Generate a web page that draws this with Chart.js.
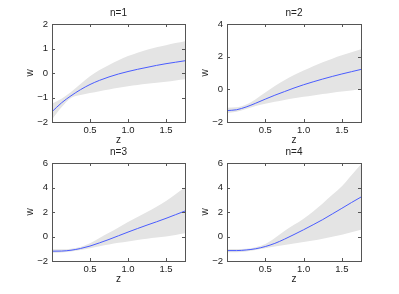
<!DOCTYPE html>
<html>
<head>
<meta charset="utf-8">
<script src="https://cdn.jsdelivr.net/npm/chart.js@4"></script>
<style>
  body { margin: 0; background: #fff; }
  #wrap { position: relative; width: 399px; height: 294px; overflow: hidden; }
  canvas { position: absolute; }
</style>
</head>
<body>
<div id="wrap">
  <canvas id="c1" width="200" height="147" style="left:0;top:0"></canvas>
  <canvas id="c2" width="201" height="147" style="left:175px;top:0"></canvas>
  <canvas id="c3" width="200" height="147" style="left:0;top:139px"></canvas>
  <canvas id="c4" width="201" height="147" style="left:175px;top:139px"></canvas>
</div>
<script>
  const zValues = [0, 0.125, 0.25, 0.375, 0.5, 0.625, 0.75, 0.875, 1, 1.125, 1.25, 1.375, 1.5, 1.625, 1.75];
  const xTicks = [0.5, 1, 1.5];

  const mean1 = [-1.58, -1.22, -0.93, -0.68, -0.47, -0.30, -0.16, -0.04, 0.06, 0.15, 0.23, 0.31, 0.38, 0.44, 0.50];
  const upper1 = [-1.25, -1.05, -0.78, -0.45, -0.13, 0.12, 0.33, 0.52, 0.69, 0.83, 0.95, 1.05, 1.13, 1.22, 1.30];
  const lower1 = [-1.9, -1.4, -1.02, -0.9, -0.82, -0.74, -0.67, -0.6, -0.54, -0.49, -0.44, -0.40, -0.36, -0.31, -0.26];

  const mean2 = [-1.3, -1.25, -1.08, -0.85, -0.6, -0.36, -0.14, 0.08, 0.28, 0.46, 0.63, 0.79, 0.94, 1.08, 1.22];
  const upper2 = [-1.12, -1.1, -0.93, -0.6, -0.2, 0.2, 0.55, 0.87, 1.15, 1.42, 1.66, 1.88, 2.08, 2.27, 2.45];
  const lower2 = [-1.45, -1.38, -1.2, -1.02, -0.88, -0.76, -0.65, -0.55, -0.46, -0.37, -0.29, -0.21, -0.14, -0.07, 0.0];

  const mean3 = [-1.2, -1.19, -1.12, -0.98, -0.78, -0.52, -0.24, 0.06, 0.36, 0.65, 0.93, 1.2, 1.48, 1.78, 2.08];
  const upper3 = [-1.05, -1.05, -1.0, -0.85, -0.55, -0.12, 0.3, 0.74, 1.18, 1.6, 2.0, 2.42, 2.9, 3.45, 4.0];
  const lower3 = [-1.32, -1.3, -1.22, -1.1, -0.95, -0.8, -0.66, -0.52, -0.4, -0.29, -0.19, -0.09, 0.0, 0.13, 0.27];

  const mean4 = [-1.15, -1.15, -1.1, -1.0, -0.82, -0.56, -0.22, 0.16, 0.55, 0.96, 1.38, 1.84, 2.3, 2.77, 3.22];
  const upper4 = [-1.02, -1.02, -1.0, -0.88, -0.62, -0.12, 0.45, 0.95, 1.45, 2.05, 2.7, 3.4, 4.1, 5.0, 5.9];
  const lower4 = [-1.28, -1.28, -1.22, -1.1, -0.96, -0.82, -0.7, -0.58, -0.45, -0.32, -0.18, -0.02, 0.15, 0.35, 0.55];

  const yTicks1 = [-2, -1, 0, 1, 2];
  const yTicks2 = [-2, 0, 2, 4];
  const yTicks3 = [-2, 0, 2, 4, 6];
  const yTicks4 = [-2, 0, 2, 4, 6];

  Chart.defaults.font.family = "'Liberation Sans', Arial, sans-serif";
  Chart.defaults.color = "#222";

  // axes box, inward ticks on all sides, and the panel title
  const boxPlugin = {
    id: "box",
    afterDraw(chart, args, opts) {
      const { ctx, chartArea: a, scales } = chart;
      ctx.save();
      ctx.strokeStyle = "#555";
      ctx.lineWidth = 1;
      ctx.beginPath();
      scales.x.ticks.forEach((t) => {
        const x = Math.round(scales.x.getPixelForValue(t.value)) + 0.5;
        ctx.moveTo(x, a.bottom);
        ctx.lineTo(x, a.bottom - 3);
        ctx.moveTo(x, a.top);
        ctx.lineTo(x, a.top + 3);
      });
      scales.y.ticks.forEach((t) => {
        const y = Math.round(scales.y.getPixelForValue(t.value)) + 0.5;
        ctx.moveTo(a.left, y);
        ctx.lineTo(a.left + 3, y);
        ctx.moveTo(a.right, y);
        ctx.lineTo(a.right - 3, y);
      });
      ctx.stroke();
      ctx.strokeRect(Math.round(a.left) + 0.5, Math.round(a.top) + 0.5,
        Math.round(a.right - a.left), Math.round(a.bottom - a.top));

      ctx.fillStyle = "#222";
      ctx.font = "10px 'Liberation Sans', Arial, sans-serif";
      ctx.textAlign = "center";
      ctx.textBaseline = "middle";
      ctx.fillText(opts.text, (a.left + a.right) / 2, 13);
      ctx.restore();
    },
  };

  function toPoints(values) {
    return zValues.map((z, i) => ({ x: z, y: values[i] }));
  }

  function makeChart(id, title, mean, lower, upper, yTicks) {
    new Chart(document.getElementById(id), {
      type: "line",
      data: {
        datasets: [
          {
            data: toPoints(mean),
            borderColor: "#4a5cff",
            borderWidth: 1,
            pointRadius: 0,
            cubicInterpolationMode: "monotone",
            fill: false,
          },
          {
            data: toPoints(lower),
            borderWidth: 0,
            borderColor: "rgba(0,0,0,0)",
            pointRadius: 0,
            cubicInterpolationMode: "monotone",
            fill: false,
          },
          {
            data: toPoints(upper),
            borderWidth: 0,
            borderColor: "rgba(0,0,0,0)",
            backgroundColor: "#e4e4e4",
            pointRadius: 0,
            cubicInterpolationMode: "monotone",
            fill: 1,
          },
        ],
      },
      options: {
        responsive: false,
        animation: false,
        layout: { padding: { left: 0, right: 15, top: 24, bottom: 0 } },
        plugins: {
          legend: { display: false },
          tooltip: { enabled: false },
          title: { display: false },
          box: { text: title },
        },
        scales: {
          x: {
            type: "linear",
            min: 0,
            max: 1.75,
            grid: { display: false, drawTicks: false },
            border: { display: false },
            afterBuildTicks: (s) => {
              s.ticks = xTicks.map((v) => ({ value: v }));
            },
            afterFit: (s) => {
              s.height = 25;
            },
            ticks: { font: { size: 9.5 }, padding: 3, maxRotation: 0 },
            title: { display: true, text: "z", font: { size: 10 }, padding: { top: 0, bottom: 1 } },
          },
          y: {
            min: yTicks[0],
            max: yTicks[yTicks.length - 1],
            grid: { display: false, drawTicks: false },
            border: { display: false },
            afterBuildTicks: (s) => {
              s.ticks = yTicks.map((v) => ({ value: v }));
            },
            afterFit: (s) => {
              s.width = 52;
            },
            ticks: {
              font: { size: 9.5 },
              padding: 4,
              callback: (v) => String(v).replace("-", "\u2212"),
            },
            title: { display: true, text: "w", font: { size: 10 }, padding: { top: 24, bottom: 0 } },
          },
        },
      },
      plugins: [boxPlugin],
    });
  }

  makeChart("c1", "n=1", mean1, lower1, upper1, yTicks1);
  makeChart("c2", "n=2", mean2, lower2, upper2, yTicks2);
  makeChart("c3", "n=3", mean3, lower3, upper3, yTicks3);
  makeChart("c4", "n=4", mean4, lower4, upper4, yTicks4);
</script>
</body>
</html>
